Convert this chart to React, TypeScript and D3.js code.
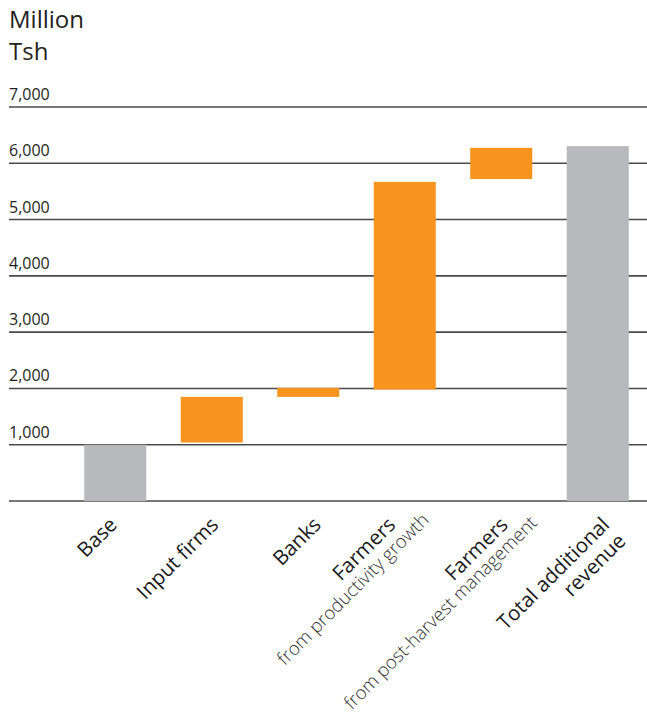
import React from "react";
import * as d3 from "d3";

const categories = ["Base", "Input firms", "Banks", "Farmers", "Farmers", "Total additional"];
const subLabels = ["", "", "", "from productivity growth", "from post-harvest management", "revenue"];
const barStart = [0, 1040, 1850, 1980, 5720, 0];
const barEnd = [1000, 1850, 2010, 5670, 6275, 6305];
const barKind = ["total", "delta", "delta", "delta", "delta", "total"];
const yTicks = [1000, 2000, 3000, 4000, 5000, 6000, 7000];

// label layout (rotated frame offsets)
const labelOffsetX = [3, 8, 14, -8, 8, 13];
const subAlong = [0, 0, 0, 27, 22, 0];
const subDown = [0, 0, 0, 20, 19, 23];

const W = 647;
const H = 717;
const ORANGE = "#F7941E";
const GREY = "#B8B9BC";
const FONT = "'Open Sans', 'Noto Sans', sans-serif";

export default function App() {
  const y = d3.scaleLinear().domain([0, 7000]).range([501, 107]);
  const x = d3
    .scaleBand<number>()
    .domain(d3.range(categories.length))
    .range([67, 646])
    .paddingInner(0.357)
    .paddingOuter(0.1785);
  const fmt = d3.format(",");

  return (
    <svg
      width={W}
      height={H}
      style={{ position: "absolute", left: 0, top: 0, display: "block", background: "#fff" }}
      fontFamily={FONT}
    >
      <text x={9} y={28} fontSize={24} fill="#231f20">Million</text>
      <text x={9} y={60} fontSize={24} fill="#231f20">Tsh</text>

      {[0, ...yTicks].map((t) => (
        <line
          key={"g" + t}
          x1={9}
          x2={647}
          y1={y(t)}
          y2={y(t)}
          stroke="#4a4a4a"
          strokeWidth={1.6}
        />
      ))}
      {yTicks.map((t) => (
        <text key={"t" + t} x={9} y={y(t) - 7} fontSize={16} fill="#231f20">
          {fmt(t)}
        </text>
      ))}

      {categories.map((c, i) => {
        const y0 = y(barStart[i]);
        const y1 = y(barEnd[i]);
        return (
          <rect
            key={"b" + i}
            x={x(i)}
            y={Math.min(y0, y1)}
            width={x.bandwidth()}
            height={Math.abs(y0 - y1)}
            fill={barKind[i] === "total" ? GREY : ORANGE}
          />
        );
      })}

      {categories.map((c, i) => {
        const cx = (x(i) as number) + x.bandwidth() / 2 + labelOffsetX[i];
        const light = barKind[i] === "delta" && subLabels[i] !== "";
        return (
          <g key={"l" + i} transform={`translate(${cx},526) rotate(-45)`}>
            <text textAnchor="end" fontSize={20.5} fill="#1a1a1a">
              {c}
            </text>
            {subLabels[i] && (
              <text
                textAnchor="end"
                x={subAlong[i]}
                y={subDown[i]}
                fontSize={light ? 18.5 : 20.5}
                fontWeight={light ? 300 : 400}
                fill={light ? "#333333" : "#1a1a1a"}
              >
                {subLabels[i]}
              </text>
            )}
          </g>
        );
      })}
    </svg>
  );
}
